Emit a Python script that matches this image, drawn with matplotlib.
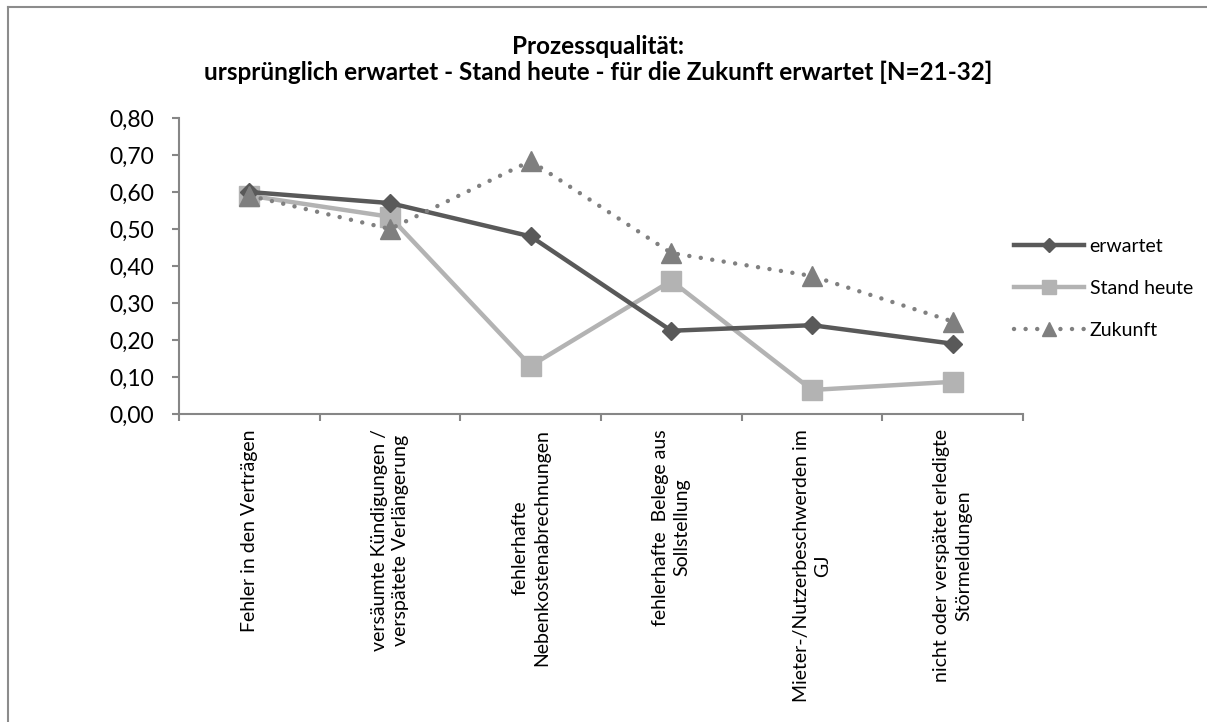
import matplotlib
matplotlib.use("Agg")
import matplotlib.pyplot as plt
from matplotlib.lines import Line2D
from matplotlib.ticker import FixedLocator, FuncFormatter

plt.rcParams['font.family'] = ['Lato', 'DejaVu Sans']

# categories and mean values per series
categories = [
    "Fehler in den Verträgen",
    "versäumte Kündigungen /\nverspätete Verlängerung",
    "fehlerhafte\nNebenkostenabrechnungen",
    "fehlerhafte  Belege aus\nSollstellung",
    "Mieter-/Nutzerbeschwerden im\nGJ",
    "nicht oder verspätet erledigte\nStörmeldungen",
]
erwartet = [0.60, 0.57, 0.48, 0.225, 0.24, 0.19]
stand_heute = [0.59, 0.533, 0.13, 0.36, 0.065, 0.087]
zukunft = [0.59, 0.50, 0.684, 0.435, 0.373, 0.25]

W, H = 1207, 722
fig = plt.figure(figsize=(W / 100, H / 100), dpi=100)

# chart frame (only top and left edges visible)
fig.add_artist(Line2D([8 / W, 8 / W], [0, 1 - 7 / H], color="#8c8c8c", lw=1.5))
fig.add_artist(Line2D([8 / W, 1], [1 - 7 / H, 1 - 7 / H], color="#8c8c8c", lw=1.5))

ax = fig.add_axes([179 / W, 1 - 414 / H, (1023 - 179) / W, (414 - 118) / H])
x = list(range(len(categories)))

ax.plot(x, erwartet, color="#595959", lw=3.2, marker="D", ms=9.5,
        mec="#595959", label="erwartet", zorder=3)
ax.plot(x, stand_heute, color="#b3b3b3", lw=3.2, marker="s", ms=14,
        mec="#b3b3b3", label="Stand heute", zorder=2)
ax.plot(x, zukunft, color="#808080", lw=3.2, ls=(0, (0.01, 2.6)),
        dash_capstyle="round", marker="^", ms=14, mec="#7f7f7f",
        mfc="#7f7f7f", label="Zukunft", zorder=4)

ax.set_xlim(-0.5, len(categories) - 0.5)
ax.set_ylim(0, 0.8)

axis_color = "#868686"
for s in ["top", "right"]:
    ax.spines[s].set_visible(False)
for s in ["left", "bottom"]:
    ax.spines[s].set_color(axis_color)
    ax.spines[s].set_linewidth(1.5)

ax.yaxis.set_major_locator(FixedLocator([i / 10 for i in range(9)]))
ax.yaxis.set_major_formatter(FuncFormatter(lambda v, p: f"{v:.2f}".replace(".", ",")))
ax.tick_params(axis="y", length=5, width=1.5, color=axis_color,
               labelsize=16.5, pad=13, labelcolor="black")

# category boundaries carry the ticks, labels sit at the centers
ax.xaxis.set_major_locator(FixedLocator([i - 0.5 for i in range(len(categories) + 1)]))
ax.xaxis.set_major_formatter(FuncFormatter(lambda v, p: ""))
ax.xaxis.set_minor_locator(FixedLocator(x))
labels = ax.set_xticklabels(categories, minor=True, rotation=90, fontsize=14,
                            ha="center", va="top", multialignment="center")
for t in labels:
    t.set_linespacing(1.35)
ax.tick_params(axis="x", which="major", length=5, width=1.5, color=axis_color)
ax.tick_params(axis="x", which="minor", length=0, pad=11)

title_x = 598 / W
fig.text(title_x, 1 - 46 / H, "Prozessqualität:",
         ha="center", va="center", fontsize=17.5, fontweight="bold")
fig.text(title_x, 1 - 72 / H,
         "ursprünglich erwartet - Stand heute - für die Zukunft erwartet [N=21-32]",
         ha="center", va="center", fontsize=17.5, fontweight="bold")

ax.legend(loc="upper left", bbox_to_anchor=(1004 / W, 1 - 228 / H),
          bbox_transform=fig.transFigure, frameon=False, fontsize=14,
          handlelength=3.6, handletextpad=0.3, labelspacing=1.3,
          numpoints=1, markerscale=0.75, borderpad=0)

fig.savefig("out.png", dpi=100)
